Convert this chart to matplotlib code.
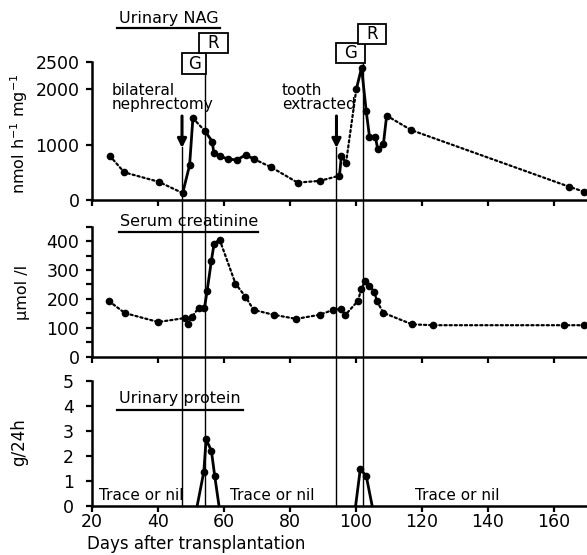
import matplotlib
matplotlib.use("Agg")
import matplotlib.pyplot as plt
from matplotlib.patches import Rectangle
from matplotlib.lines import Line2D
import matplotlib.transforms as mtransforms
import numpy as np

# ---------------- data ----------------
nag_days = [25.4, 29.8, 40.2, 47.5, 49.6, 50.6, 54.2, 56.5, 56.9, 58.7, 61.2, 63.9,
            66.6, 69.1, 74.4, 82.3, 89.0, 95.0, 95.6, 97.0, 100.1, 101.7, 103.1,
            104.1, 105.9, 106.6, 108.3, 109.3, 116.7, 164.6, 169.1]
nag_vals = [800, 500, 330, 125, 630, 1480, 1250, 1055, 855, 795, 740, 725,
            815, 740, 590, 315, 345, 440, 800, 675, 2000, 2390, 1610,
            1145, 1135, 920, 1005, 1525, 1265, 240, 150]

cr_days = [25.2, 30.0, 40.1, 48.2, 49.1, 50.3, 52.3, 54.1, 54.9, 56.2, 57.0, 58.7,
           63.5, 66.5, 69.0, 75.1, 81.9, 89.0, 93.0, 95.5, 96.8, 100.6, 101.6,
           102.8, 104.1, 105.6, 106.3, 108.3, 117.0, 123.3, 163.1, 169.1]
cr_vals = [192, 151, 120, 134, 114, 137, 169, 169, 227, 332, 390, 405,
           253, 208, 162, 145, 131, 145, 162, 166, 145, 193, 234,
           263, 246, 225, 193, 152, 112, 109, 109, 109]

prot1_days = [51.9, 53.9, 54.6, 56.2, 57.2, 58.5]
prot1_vals = [0, 1.35, 2.65, 2.2, 1.2, 0]
prot2_days = [99.9, 101.3, 103.1, 104.9]
prot2_vals = [0, 1.45, 1.2, 0]

g_days = [47.3, 94.1]     # G events
r_days = [54.2, 102.2]    # R events

x_ticks = [20, 40, 60, 80, 100, 120, 140, 160]
nag_ticks = [0, 1000, 2000, 2500]
cr_ticks = [0, 100, 200, 300, 400]
prot_ticks = [0, 1, 2, 3, 4, 5]

trace_days = [34.9, 74.5, 130.7]

# line-style segments (index ranges, inclusive)
nag_solid = [(3, 5), (6, 13), (17, 19), (20, 27)]
nag_dotted = [(0, 3), (5, 6), (13, 17), (19, 20), (27, 30)]
cr_solid = [(7, 11)]
cr_dotted = [(0, 7), (11, 31)]

# ---------------- figure ----------------
W, H = 587, 555
plt.rcParams['font.family'] = ['DejaVu Sans']
fig = plt.figure(figsize=(W / 100, H / 100), dpi=100)


def px_axes(l, t, r, b):
    return fig.add_axes([l / W, 1 - b / H, (r - l) / W, (b - t) / H])


ax1 = px_axes(91.9, 61.7, 587, 200)
ax2 = px_axes(91.9, 226.7, 587, 356.7)
ax3 = px_axes(91.9, 380.7, 587, 505.7)

for ax in (ax1, ax2, ax3):
    ax.set_xlim(20, 170)
    ax.spines['top'].set_visible(False)
    ax.spines['right'].set_visible(False)
    ax.spines['left'].set_linewidth(1.8)
    ax.spines['bottom'].set_linewidth(1.8)
    ax.set_xticks(x_ticks)
    ax.tick_params(axis='both', direction='out', length=4, width=1.6,
                   labelsize=12.5, pad=5)
    ax.patch.set_alpha(0)

ax1.set_xticklabels([])
ax2.set_xticklabels([])
ax3.tick_params(axis='x', pad=1.5)
ax1.set_ylim(0, 2500)
ax1.set_yticks(nag_ticks)
ax2.set_ylim(0, 450)
ax2.set_yticks(cr_ticks)
ax2.set_yticks(np.arange(50, 451, 100), minor=True)
ax2.tick_params(axis='y', which='minor', direction='out', length=4, width=1.6)
ax3.set_ylim(0, 5)
ax3.set_yticks(prot_ticks)
ax3.tick_params(axis='y', pad=9)


def draw_series(ax, days, vals, solid, dotted):
    d = np.array(days)
    v = np.array(vals)
    for a, b in dotted:
        ax.plot(d[a:b + 1], v[a:b + 1], color='k', lw=1.6, ls=(0, (1, 1.3)),
                clip_on=False, dash_capstyle='round')
    for a, b in solid:
        ax.plot(d[a:b + 1], v[a:b + 1], color='k', lw=2.0, ls='-', clip_on=False)
    ax.plot(d, v, ls='none', marker='o', ms=4.5, color='k', clip_on=False)


draw_series(ax1, nag_days, nag_vals, nag_solid, nag_dotted)
draw_series(ax2, cr_days, cr_vals, cr_solid, cr_dotted)

for dd, vv in ((prot1_days, prot1_vals), (prot2_days, prot2_vals)):
    d = np.array(dd)
    v = np.array(vv)
    ax3.plot(d, v, color='k', lw=2.0, clip_on=False)
    m = v > 0
    ax3.plot(d[m], v[m], ls='none', marker='o', ms=4.5, color='k', clip_on=False)

# ---------------- event lines / boxes / arrows ----------------
def fy(py):
    return 1 - py / H

y_bottom = fy(505.7)
tr1 = mtransforms.blended_transform_factory(ax1.transData, fig.transFigure)
g_tops = [fy(147), fy(147)]
r_tops = [fy(74), fy(63.3)]
for x, yt in zip(g_days, g_tops):
    fig.add_artist(Line2D([x, x], [yt, y_bottom], transform=tr1, color='k', lw=1.0))
for x, yt in zip(r_days, r_tops):
    fig.add_artist(Line2D([x, x], [yt, y_bottom], transform=tr1, color='k', lw=1.0))

g_box_y = [(53.3, 74.0), (43.3, 63.3)]
r_box_y = [(33.3, 53.3), (24.3, 44.3)]
for g, r, (gt, gb), (rt, rb) in zip(g_days, r_days, g_box_y, r_box_y):
    fig.add_artist(Rectangle((g, fy(gb)), (r + 0.45) - g, fy(gt) - fy(gb),
                             transform=tr1, facecolor='white',
                             edgecolor='k', lw=1.3))
    fig.text((g + r + 0.45) / 2, (fy(gt) + fy(gb)) / 2, 'G', transform=tr1,
             fontsize=12, ha='center', va='center')
    fig.add_artist(Rectangle((r - 1.7, fy(rb)), 8.6, fy(rt) - fy(rb),
                             transform=tr1, facecolor='white',
                             edgecolor='k', lw=1.3))
    fig.text((r - 1.7 + r + 6.9) / 2, (fy(rt) + fy(rb)) / 2, 'R',
             transform=tr1, fontsize=12, ha='center', va='center')

tra = mtransforms.blended_transform_factory(ax1.transData, ax1.transAxes)
for x in g_days:
    ax1.annotate('', xy=(x, (200 - 148) / 138.3), xytext=(x, (200 - 116) / 138.3),
                 xycoords=tra, textcoords=tra,
                 arrowprops=dict(arrowstyle='-|>', color='k', lw=2.2,
                                 mutation_scale=13, shrinkA=0, shrinkB=0))

ax1.text(0.0406, 0.74, 'bilateral\nnephrectomy', transform=ax1.transAxes,
         fontsize=11, ha='left', va='center', linespacing=0.95)
ax1.text(0.384, 0.74, 'tooth\nextracted', transform=ax1.transAxes,
         fontsize=11, ha='left', va='center', linespacing=0.95)


def title(ax, xc, yc, yline, x0, x1, s):
    ax.text(xc, yc, s, transform=ax.transAxes, fontsize=11.5, ha='center',
            va='center')
    ax.add_line(Line2D([x0, x1], [yline, yline], transform=ax.transAxes,
                       color='k', lw=1.6, clip_on=False))


title(ax1, 0.155, 1.315, 1.244, 0.0507, 0.2587, 'Urinary NAG')
title(ax2, 0.196, 1.04, 0.9615, 0.0547, 0.3355, 'Serum creatinine')
title(ax3, 0.178, 0.86, 0.766, 0.0507, 0.305, 'Urinary protein')

for x in trace_days:
    ax3.text(x, 0.22, 'Trace or nil', fontsize=11, ha='center', va='baseline')

fig.text(19 / W, fy(134), 'nmol h$^{-1}$ mg$^{-1}$', rotation=90,
         ha='center', va='center', fontsize=11.5)
fig.text(22 / W, fy(292), 'μmol /l', rotation=90, ha='center', va='center',
         fontsize=11.5)
fig.text(19 / W, fy(442), 'g/24h', rotation=90, ha='center', va='center',
         fontsize=12)
fig.text(196 / W, fy(544), 'Days after transplantation', ha='center',
         va='center', fontsize=12)

fig.savefig('out.png', dpi=100)
